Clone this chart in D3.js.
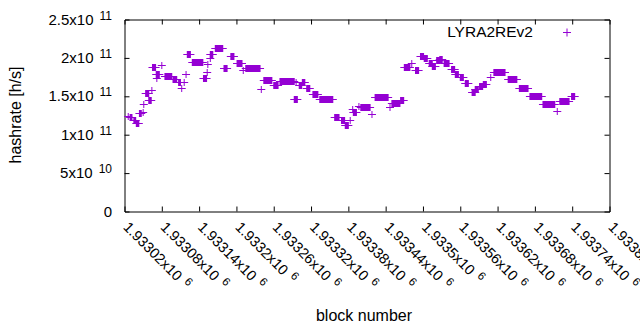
<!DOCTYPE html>
<html>
<head>
<meta charset="utf-8">
<script src="https://cdn.jsdelivr.net/npm/d3@7"></script>
<style>
  body { margin: 0; background: #fff; }
  svg { font-family: "Liberation Sans", Arial, sans-serif; }
</style>
</head>
<body>
<svg width="640" height="330"></svg>
<script>
var runStart = [1933026, 1933029, 1933035, 1933039, 1933044, 1933050, 1933051, 1933054, 1933059, 1933064,
  1933065, 1933072, 1933071, 1933080, 1933085, 1933098, 1933107, 1933112, 1933116, 1933119,
  1933121, 1933129, 1933147, 1933153, 1933154, 1933158, 1933158, 1933166, 1933180, 1933191,
  1933201, 1933211, 1933215, 1933240, 1933244, 1933260, 1933270, 1933293, 1933296, 1933301,
  1933306, 1933313, 1933323, 1933334, 1933358, 1933369, 1933375, 1933383, 1933387, 1933388,
  1933397, 1933400, 1933418, 1933423, 1933447, 1933450, 1933464, 1933470, 1933482, 1933488,
  1933496, 1933502, 1933510, 1933515, 1933522, 1933527, 1933534, 1933546, 1933552, 1933560,
  1933568, 1933579, 1933584, 1933591, 1933597, 1933609, 1933614, 1933637, 1933655, 1933672,
  1933693, 1933716, 1933720, 1933739];
var runEnd = [1933026, 1933032, 1933038, 1933043, 1933047, 1933050, 1933051, 1933059, 1933063, 1933064,
  1933070, 1933072, 1933076, 1933080, 1933096, 1933104, 1933110, 1933112, 1933116, 1933119,
  1933126, 1933146, 1933152, 1933153, 1933154, 1933158, 1933162, 1933178, 1933185, 1933196,
  1933209, 1933211, 1933238, 1933240, 1933257, 1933267, 1933293, 1933298, 1933296, 1933305,
  1933310, 1933318, 1933331, 1933355, 1933365, 1933374, 1933380, 1933383, 1933387, 1933393,
  1933397, 1933415, 1933418, 1933444, 1933447, 1933463, 1933469, 1933479, 1933482, 1933493,
  1933501, 1933507, 1933515, 1933520, 1933527, 1933531, 1933542, 1933551, 1933557, 1933565,
  1933573, 1933584, 1933589, 1933596, 1933602, 1933609, 1933632, 1933651, 1933669, 1933691,
  1933712, 1933716, 1933735, 1933744];
var hashrate = [125.0e9, 122.4e9, 118.5e9, 114.6e9, 128.9e9, 130.2e9, 140.6e9, 154.9e9, 145.8e9, 157.6e9,
  188.8e9, 173.2e9, 178.4e9, 191.4e9, 175.8e9, 171.9e9, 168.0e9, 160.2e9, 168.0e9, 178.4e9,
  205.7e9, 195.3e9, 173.2e9, 181.0e9, 192.7e9, 200.5e9, 205.7e9, 213.5e9, 187.5e9, 203.1e9,
  194.0e9, 183.6e9, 187.5e9, 158.9e9, 170.6e9, 164.1e9, 169.3e9, 147.1e9, 168.0e9, 164.1e9,
  168.0e9, 160.2e9, 153.6e9, 147.1e9, 122.4e9, 118.5e9, 112.0e9, 118.5e9, 134.1e9, 130.2e9,
  138.0e9, 136.7e9, 127.6e9, 149.7e9, 136.7e9, 141.9e9, 145.8e9, 188.8e9, 194.0e9, 183.6e9,
  203.1e9, 200.5e9, 194.0e9, 190.1e9, 197.9e9, 199.2e9, 194.0e9, 184.9e9, 178.4e9, 174.5e9,
  166.7e9, 156.2e9, 158.9e9, 162.8e9, 165.4e9, 174.5e9, 181.0e9, 171.9e9, 160.2e9, 151.0e9,
  140.6e9, 131.5e9, 144.5e9, 151.0e9];

var xTickValues = [1933020, 1933080, 1933140, 1933200, 1933260, 1933320, 1933380,
  1933440, 1933500, 1933560, 1933620, 1933680, 1933740, 1933800];
var xTickLabels = ["1.93302", "1.93308", "1.93314", "1.9332", "1.93326", "1.93332", "1.93338",
  "1.93344", "1.9335", "1.93356", "1.93362", "1.93368", "1.93374", "1.9338"];
var xTickExp = "6";
var yTickValues = [0, 5e10, 1e11, 1.5e11, 2e11, 2.5e11];
var yTickLabels = ["0", "5x10", "1x10", "1.5x10", "2x10", "2.5x10"];
var yTickExp = ["", "10", "11", "11", "11", "11"];
var seriesName = "LYRA2REv2";

var color = "#9400d3";
var plotLeft = 124.5, plotRight = 609.5, plotTop = 19.5, plotBottom = 211.5;
var arm = 4;

var svg = d3.select("svg");

var xScale = d3.scaleLinear().domain([1933020, 1933800]).range([plotLeft, plotRight]);
var yScale = d3.scaleLinear().domain([0, 2.5e11]).range([plotBottom, plotTop]);

// axes, ticks pointing inwards on all four sides
var xAxis = d3.axisBottom(xScale).tickValues(xTickValues).tickSize(-5).tickFormat("");
var xAxisTop = d3.axisTop(xScale).tickValues(xTickValues).tickSize(-5).tickFormat("");
var yAxis = d3.axisLeft(yScale).tickValues(yTickValues).tickSize(-5).tickFormat("");
var yAxisRight = d3.axisRight(yScale).tickValues(yTickValues).tickSize(-5).tickFormat("");

svg.append("g").attr("transform", "translate(0," + plotBottom + ")").call(xAxis);
svg.append("g").attr("transform", "translate(0," + plotTop + ")").call(xAxisTop);
svg.append("g").attr("transform", "translate(" + plotLeft + ",0)").call(yAxis);
svg.append("g").attr("transform", "translate(" + plotRight + ",0)").call(yAxisRight);
svg.selectAll(".domain").attr("stroke", "#000").attr("stroke-width", 1);
svg.selectAll(".tick line").attr("stroke", "#000");
// no ticks in the corners, like gnuplot
svg.selectAll(".tick line").filter(function(d) {
  return d === 1933020 || d === 1933800 || d === 0 || d === 2.5e11;
}).remove();

// y tick labels with exponents
var yLab = svg.append("g").selectAll("text")
  .data(yTickValues)
  .enter()
  .append("text")
  .attr("x", 112)
  .attr("y", function(d) { return yScale(d) + 5; })
  .attr("text-anchor", "end")
  .attr("font-size", "15px")
  .attr("fill", "#000");
yLab.append("tspan").text(function(d, i) { return yTickLabels[i]; });
yLab.append("tspan")
  .attr("dx", function(d, i) { return yTickExp[i] ? 6 : 0; })
  .attr("dy", -5)
  .attr("font-size", "12px")
  .text(function(d, i) { return yTickExp[i]; });

// x tick labels, rotated
var xLab = svg.append("g").selectAll("text")
  .data(xTickValues)
  .enter()
  .append("text")
  .attr("transform", function(d) { return "translate(" + (xScale(d) - 2) + ",228) rotate(45)"; })
  .attr("text-anchor", "start")
  .attr("font-size", "14.5px")
  .attr("fill", "#000");
xLab.append("tspan").text(function(d, i) { return xTickLabels[i] + "x10"; });
xLab.append("tspan")
  .attr("dx", 6)
  .attr("dy", -5)
  .attr("font-size", "11.5px")
  .text(xTickExp);

// axis titles
svg.append("text")
  .attr("transform", "translate(21,115) rotate(-90)")
  .attr("text-anchor", "middle")
  .attr("font-size", "16px")
  .text("hashrate [h/s]");

svg.append("text")
  .attr("x", 364)
  .attr("y", 321)
  .attr("text-anchor", "middle")
  .attr("font-size", "16px")
  .text("block number");

// points: a "+" on every block; runs of equal value melt into a block
var runs = d3.range(hashrate.length).map(function(i) {
  return {start: runStart[i], end: runEnd[i], value: hashrate[i]};
});

var pts = svg.append("g");
pts.selectAll("rect.run")
  .data(runs)
  .enter()
  .append("rect")
  .attr("class", "run")
  .attr("x", function(d) { return xScale(d.start) - 0.5; })
  .attr("width", function(d) { return xScale(d.end) - xScale(d.start) + 1; })
  .attr("y", function(d) { return Math.round(yScale(d.value)) - 3; })
  .attr("height", 7)
  .attr("fill", color);

pts.selectAll("line.arm")
  .data(runs)
  .enter()
  .append("line")
  .attr("class", "arm")
  .attr("x1", function(d) { return xScale(d.start) - arm; })
  .attr("x2", function(d) { return xScale(d.end) + arm; })
  .attr("y1", function(d) { return Math.round(yScale(d.value)) + 0.5; })
  .attr("y2", function(d) { return Math.round(yScale(d.value)) + 0.5; })
  .attr("stroke", color)
  .attr("stroke-width", 1);

// legend
svg.append("text")
  .attr("x", 533)
  .attr("y", 37)
  .attr("text-anchor", "end")
  .attr("font-size", "15.5px")
  .text(seriesName);

var lx = 567, ly = 32.5;
svg.append("path")
  .attr("d", "M" + (lx - arm) + "," + ly + "H" + (lx + arm) + "M" + lx + "," + (ly - arm) + "V" + (ly + arm))
  .attr("stroke", color)
  .attr("stroke-width", 1)
  .attr("fill", "none");
</script>
</body>
</html>
